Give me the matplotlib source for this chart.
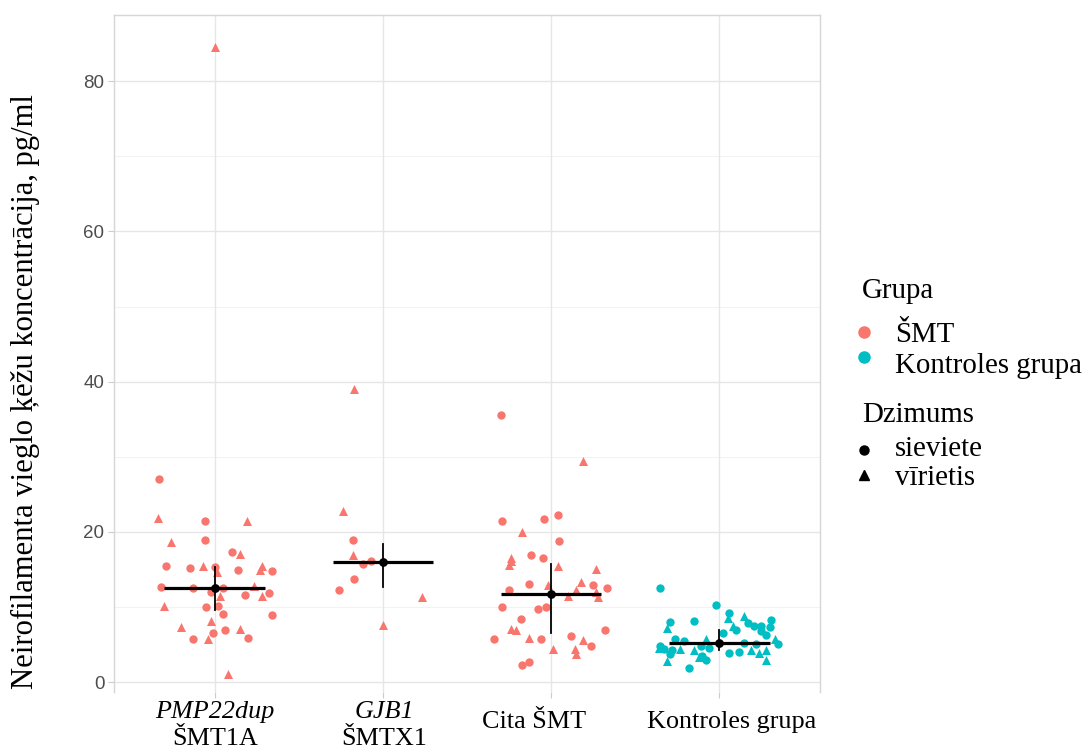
import matplotlib
matplotlib.use("Agg")
import matplotlib.pyplot as plt
from matplotlib.lines import Line2D
import numpy as np

# ---------------- data ----------------
categories = ["PMP22dup\nŠMT1A", "GJB1\nŠMTX1", "Cita ŠMT", "Kontroles grupa"]
cat_italic_line = [True, True, False, False]
group_of_cat = ["ŠMT", "ŠMT", "ŠMT", "Kontroles grupa"]

# jitter offsets, values (pg/ml), sex (F = sieviete, M = vīrietis)
g1_jit = [-0.33, -0.34, -0.06, 0.19, -0.26, -0.06, 0.10, 0.15, -0.29, -0.15, -0.07, 0.00,
          0.01, 0.14, 0.28, 0.27, 0.34, -0.32, -0.13, -0.02, 0.03, 0.23, 0.18, 0.28, 0.32,
          -0.30, -0.05, 0.02, 0.05, 0.34, -0.02, -0.20, 0.06, 0.15, -0.01, -0.13, -0.04,
          0.20, 0.08, 0.00, 0.05]
g1_val = [27.0, 21.9, 21.5, 21.5, 18.7, 18.9, 17.3, 17.1, 15.5, 15.2, 15.5, 15.4,
          14.7, 14.95, 15.5, 15.0, 14.8, 12.7, 12.6, 12.0, 11.5, 12.8, 11.6, 11.45, 11.85,
          10.1, 10.0, 10.2, 9.1, 9.0, 8.1, 7.3, 6.9, 7.05, 6.6, 5.8, 5.8,
          5.9, 1.07, 84.5, 12.6]
g1_sex = ["F", "M", "F", "M", "M", "F", "F", "M", "F", "F", "M", "F",
          "M", "F", "M", "M", "F", "F", "F", "F", "M", "M", "F", "M", "F",
          "M", "F", "F", "F", "F", "M", "M", "F", "M", "F", "F", "M",
          "F", "M", "M", "F"]

g2_jit = [-0.17, -0.24, -0.18, -0.18, -0.12, -0.07, -0.17, -0.26, 0.23, 0.00]
g2_val = [39.0, 22.8, 18.9, 16.9, 15.8, 16.2, 13.8, 12.25, 11.4, 7.6]
g2_sex = ["M", "M", "F", "M", "F", "F", "F", "F", "M", "M"]

g3_jit = [-0.30, 0.19, -0.29, -0.04, 0.04, -0.17, 0.05, -0.24, -0.24, -0.25, -0.12, -0.05,
          0.04, 0.27, -0.13, -0.02, 0.18, 0.25, 0.33, -0.25, 0.15, 0.10, 0.27, 0.28,
          -0.29, -0.08, -0.03, -0.18, -0.24, -0.21, 0.32, -0.34, -0.13, -0.06, 0.12, 0.19,
          0.24, 0.01, 0.14, 0.15, -0.17, -0.13]
g3_val = [35.5, 29.5, 21.4, 21.7, 22.2, 20.0, 18.8, 16.6, 16.1, 15.6, 16.9, 16.6,
          15.45, 15.05, 13.1, 12.9, 13.3, 12.9, 12.5, 12.25, 12.25, 11.5, 12.0, 11.4,
          9.95, 9.7, 9.95, 8.35, 7.06, 7.0, 7.0, 5.7, 5.86, 5.7, 6.2, 5.6,
          4.8, 4.4, 4.4, 3.8, 2.35, 2.65]
g3_sex = ["F", "M", "F", "F", "F", "M", "F", "M", "M", "M", "F", "F",
          "M", "M", "F", "M", "M", "F", "F", "F", "M", "M", "M", "M",
          "F", "F", "F", "F", "M", "M", "F", "F", "M", "F", "F", "M",
          "F", "M", "M", "M", "F", "F"]

g4_jit = [-0.35, -0.02, 0.06, 0.05, 0.15, -0.29, -0.31, -0.15, 0.08, 0.10, 0.17, 0.21,
          0.25, 0.31, 0.30, 0.25, 0.28, 0.02, -0.26, -0.21, -0.08, 0.33, 0.35, -0.35,
          -0.33, -0.36, -0.28, -0.23, -0.15, -0.11, -0.06, -0.10, -0.12, -0.08, -0.29,
          -0.31, -0.18, 0.06, 0.12, 0.15, 0.19, 0.22, 0.24, 0.28, 0.28]
g4_val = [12.5, 10.25, 9.2, 8.6, 8.8, 8.0, 7.2, 8.2, 7.45, 7.0, 7.9, 7.45,
          7.45, 8.3, 7.4, 6.8, 6.3, 6.5, 5.8, 5.5, 5.7, 5.8, 5.15, 4.8,
          4.4, 4.5, 4.3, 4.4, 4.3, 4.8, 4.6, 3.5, 3.3, 2.9, 3.7,
          2.8, 1.96, 3.9, 4.0, 5.2, 4.3, 5.05, 3.9, 4.35, 3.0]
g4_sex = ["F", "F", "F", "M", "M", "F", "M", "F", "M", "F", "F", "F",
          "F", "F", "F", "F", "F", "F", "F", "F", "M", "M", "F", "F",
          "F", "M", "F", "M", "M", "F", "F", "F", "M", "F", "F",
          "M", "F", "F", "F", "F", "M", "F", "M", "M", "M"]

# summary (centre, lower, upper)
summ_center = [12.5, 16.0, 11.8, 5.2]
summ_low = [9.6, 12.7, 6.6, 4.3]
summ_high = [15.35, 18.4, 15.7, 7.0]

y_ticks = [0, 20, 40, 60, 80]
y_label = "Neirofilamenta vieglo ķēžu koncentrācija, pg/ml"
legend_group_title = "Grupa"
legend_groups = ["ŠMT", "Kontroles grupa"]
legend_sex_title = "Dzimums"
legend_sex = ["sieviete", "vīrietis"]

colors = {"ŠMT": "#F8766D", "Kontroles grupa": "#00BFC4"}
markers = {"F": "o", "M": "^"}

# ---------------- figure ----------------
W, H = 1085, 753
fig = plt.figure(figsize=(W / 100, H / 100), dpi=100)
L, R, T, B = 114, 820, 15, 692
ax = fig.add_axes([L / W, 1 - B / H, (R - L) / W, (B - T) / H])

ax.set_xlim(0.4, 4.6)
ax.set_ylim(-1.3, 88.8)

# grid
for yv in [10, 30, 50, 70]:
    ax.axhline(yv, color="#f2f2f2", lw=0.7, zorder=0)
for yv in y_ticks:
    ax.axhline(yv, color="#e6e6e6", lw=1.0, zorder=0)
for xv in range(1, 5):
    ax.axvline(xv, color="#e6e6e6", lw=1.0, zorder=0)

for s in ax.spines.values():
    s.set_color("#d6d6d6")
    s.set_linewidth(1.0)
ax.spines["bottom"].set_visible(False)

groups = [(g1_jit, g1_val, g1_sex), (g2_jit, g2_val, g2_sex),
          (g3_jit, g3_val, g3_sex), (g4_jit, g4_val, g4_sex)]
for i, (jit, val, sex) in enumerate(groups):
    col = colors[group_of_cat[i]]
    for sx in ["F", "M"]:
        xs = [i + 1 + j for j, s in zip(jit, sex) if s == sx]
        ys = [v for v, s in zip(val, sex) if s == sx]
        ax.scatter(xs, ys, s=36 if sx == "F" else 42, marker=markers[sx], color=col,
                   linewidths=0, zorder=3)

# summary
for i in range(4):
    x = i + 1
    ax.plot([x - 0.3, x + 0.3], [summ_center[i]] * 2, color="black", lw=2.3,
            zorder=5, solid_capstyle="butt")
    ax.plot([x, x], [summ_low[i], summ_high[i]], color="black", lw=1.3, zorder=5)
    ax.scatter([x], [summ_center[i]], s=40, color="black", zorder=6, linewidths=0)

ax.set_yticks(y_ticks)
ax.set_yticklabels([str(v) for v in y_ticks], family="Liberation Sans", fontsize=13.5,
                   color="#4d4d4d")
ax.tick_params(axis="y", length=4, width=0.8, color="#cccccc", pad=3)
ax.set_xticks([1, 2, 3, 4])
ax.set_xticklabels([])
ax.tick_params(axis="x", length=4, width=0.8, color="#cccccc")

# x labels (text centres in pixels, as they sit in the reference)
serif = "Liberation Serif"
xfs = 18.8
label_px = [215, 384, 534, 732]
for i, lab in enumerate(categories):
    lines = lab.split("\n")
    xp = label_px[i] / W
    if len(lines) == 2:
        fig.text(xp, 1 - 712 / H, lines[0], ha="center", va="center", family=serif,
                 fontsize=xfs, style="italic" if cat_italic_line[i] else "normal")
        fig.text(xp, 1 - 739 / H, lines[1], ha="center", va="center", family=serif,
                 fontsize=xfs)
    else:
        fig.text(xp, 1 - 722 / H, lines[0], ha="center", va="center", family=serif,
                 fontsize=xfs)

# y label
fig.text(25 / W, 1 - 392 / H, y_label, rotation=90, ha="center", va="center",
         family=serif, fontsize=22.1)

# legend (manual)
lfs = 20.8
fig.text(862 / W, 1 - 291 / H, legend_group_title, ha="left", va="center",
         family=serif, fontsize=lfs)
for k, (g, yy, ty) in enumerate(zip(legend_groups, [332, 357], [335, 366])):
    fig.add_artist(Line2D([864 / W], [1 - yy / H], marker="o", markersize=8,
                          color=colors[g], linestyle="none", transform=fig.transFigure))
    fig.text(895 / W, 1 - ty / H, g, ha="left", va="center", family=serif, fontsize=lfs)
fig.text(862 / W, 1 - 415 / H, legend_sex_title, ha="left", va="center",
         family=serif, fontsize=lfs)
for k, (g, yy, ty, m) in enumerate(zip(legend_sex, [450, 475], [449, 478], ["o", "^"])):
    fig.add_artist(Line2D([864 / W], [1 - yy / H], marker=m, markersize=6.5,
                          color="black", linestyle="none", transform=fig.transFigure))
    fig.text(895 / W, 1 - ty / H, g, ha="left", va="center", family=serif, fontsize=lfs)

fig.savefig("out.png", dpi=100, facecolor="white")
